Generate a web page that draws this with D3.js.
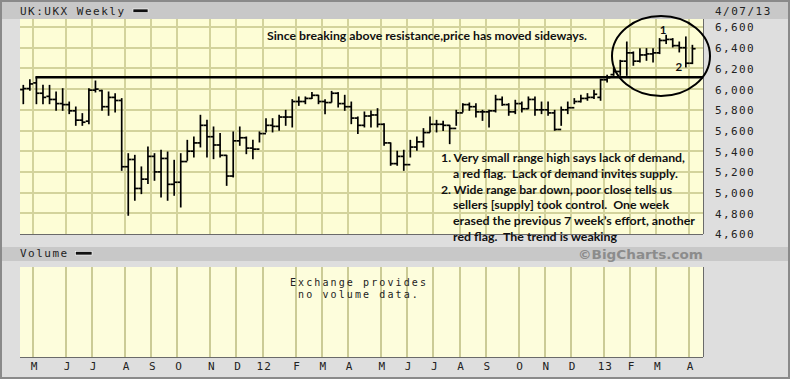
<!DOCTYPE html>
<html><head><meta charset="utf-8">
<script src="https://cdn.jsdelivr.net/npm/d3@7"></script>
<style>html,body{margin:0;padding:0;background:#dedede;}svg{display:block;}</style>
</head><body>
<script>
// ---------- DATA ----------
const firstWeek = "2011-04-18"; // weekly bars, one per week
const highs = [6036,6091,6110,6036,6036,5972,6004,5875,5827,5763,6004,6078,5988,5972,5956,5908,5376,5360,5248,5441,5376,5409,5392,5312,5376,5505,5537,5747,5698,5634,5570,5360,5586,5634,5537,5505,5586,5714,5714,5747,5795,5898,5924,5924,5966,5940,5898,5978,5966,5940,5875,5731,5779,5788,5811,5666,5480,5400,5409,5505,5537,5618,5731,5698,5690,5650,5795,5859,5866,5859,5795,5795,5940,5924,5859,5892,5875,5924,5924,5875,5875,5795,5827,5875,5908,5940,5956,5988,6095,6133,6198,6278,6455,6359,6391,6391,6391,6488,6520,6488,6455,6504,6423];
const lows = [5859,5988,5859,5859,5859,5795,5795,5763,5650,5650,5666,5972,5795,5747,5779,5215,4781,4926,4990,5087,5119,4958,4926,4974,4861,5312,5344,5441,5344,5328,5344,5070,5151,5457,5376,5328,5489,5586,5586,5602,5650,5634,5843,5859,5908,5859,5763,5875,5827,5795,5666,5570,5634,5634,5634,5457,5264,5264,5215,5344,5409,5441,5586,5586,5600,5473,5650,5779,5795,5731,5698,5634,5779,5843,5747,5763,5779,5811,5747,5763,5747,5602,5650,5763,5859,5875,5892,5908,5892,6069,6133,6133,6133,6230,6262,6278,6262,6343,6440,6407,6359,6214,6246];
const opens = [5995,6005,6060,5960,5930,5900,5860,5850,5790,5700,5690,5990,5985,5830,5920,5890,5250,5320,5040,5130,5350,5200,5330,5080,5100,5300,5400,5480,5650,5540,5460,5360,5160,5500,5530,5430,5420,5570,5650,5640,5730,5730,5880,5880,5910,5940,5880,5870,5960,5860,5830,5720,5650,5740,5750,5660,5480,5280,5350,5270,5440,5490,5580,5660,5660,5650,5620,5770,5850,5830,5780,5780,5790,5900,5850,5780,5860,5810,5900,5800,5800,5770,5610,5800,5820,5880,5910,5920,5920,6090,6140,6170,6270,6350,6270,6330,6340,6350,6470,6480,6420,6400,6250];
const closes = [6005,6050,5960,5920,5900,5860,5850,5790,5700,5680,5990,6000,5830,5920,5890,5250,5320,5040,5130,5350,5200,5330,5080,5100,5300,5400,5480,5650,5540,5460,5360,5160,5500,5530,5430,5420,5570,5650,5640,5730,5730,5880,5880,5910,5940,5880,5870,5960,5860,5830,5720,5650,5740,5750,5660,5480,5280,5350,5270,5440,5490,5580,5660,5660,5650,5620,5770,5850,5830,5780,5780,5790,5900,5850,5780,5860,5810,5900,5800,5800,5770,5610,5800,5820,5880,5910,5920,5950,6090,6110,6170,6270,6350,6270,6330,6340,6350,6470,6480,6420,6400,6250,6390];
const priceTicks = [4600,4800,5000,5200,5400,5600,5800,6000,6200,6400,6600];
const monthLabels = ["M","J","J","A","S","O","N","D","12","F","M","A","M","J","J","A","S","O","N","D","13","F","M","A"];
const monthWeeks = ["2011-05-02","2011-06-06","2011-07-04","2011-08-08","2011-09-05","2011-10-03","2011-11-07","2011-12-05","2012-01-02","2012-02-06","2012-03-05","2012-04-02","2012-05-07","2012-06-04","2012-07-02","2012-07-30","2012-08-27","2012-10-01","2012-10-29","2012-11-26","2012-12-31","2013-01-28","2013-02-25","2013-04-01"];
const resistance = 6115;
const resistanceFrom = "2011-05-02";
const titleText = "UK:UKX Weekly";
const dateText = "4/07/13";
const headline = "Since breaking above resistance,price has moved sideways.";
const notes = [
  ["1. Very small range high says lack of demand,", 0, 244],
  ["a red flag.  Lack of demand invites supply.", 1, 225],
  ["2. Wide range bar down, poor close tells us", 0, 231],
  ["sellers [supply] took control.  One week", 1, 216],
  ["erased the previous 7 week\u2019s effort, another", 1, 242],
  ["red flag.  The trend is weaking", 1, 164]
];
const marks = [["1","2013-03-04",6575],["2","2013-03-25",6215]];

// ---------- SETUP ----------
const W = 790, H = 379;
const svg = d3.select("body").append("svg").attr("width", W).attr("height", H);
const parse = d3.timeParse("%Y-%m-%d");
const dates = highs.map((_, i) => d3.timeWeek.offset(parse(firstWeek), i));
const P = {left: 20, right: 703, top: 19, bottom: 234};
const V = {top: 267, bottom: 357};
const x = d3.scaleTime().domain([dates[0], dates[dates.length - 1]]).range([23.3, 692.4]);
const y = d3.scaleLinear().domain([4600, 6600]).range([234, 27]);
const half = (x(dates[1]) - x(dates[0])) / 2;
const mono = "'DejaVu Sans Mono', monospace";
const monthDates = monthWeeks.map(parse);

// page background & frame
svg.append("rect").attr("width", W).attr("height", H).attr("fill", "#dedede");
svg.append("rect").attr("x", 1).attr("y", 1).attr("width", W - 2).attr("height", H - 2)
  .attr("fill", "none").attr("stroke", "#8a8a8a").attr("stroke-width", 2);
// header bands
svg.append("rect").attr("x", 2).attr("y", 2).attr("width", W - 4).attr("height", 17).attr("fill", "#c8c8c8");
svg.append("rect").attr("x", 2).attr("y", 247).attr("width", W - 4).attr("height", 14).attr("fill", "#c8c8c8");

// plot backgrounds
svg.append("rect").attr("x", P.left).attr("y", P.top).attr("width", P.right - P.left).attr("height", P.bottom - P.top).attr("fill", "#fdfdd6");
svg.append("rect").attr("x", P.left).attr("y", V.top).attr("width", P.right - P.left).attr("height", V.bottom - V.top).attr("fill", "#fdfddc");

// grid - main
const gm = svg.append("g").attr("stroke", "#d3d39c").attr("stroke-width", 1.5).attr("shape-rendering", "crispEdges");
gm.selectAll("line.h").data(priceTicks.slice(1)).join("line")
  .attr("x1", P.left).attr("x2", P.right).attr("y1", d => Math.round(y(d))).attr("y2", d => Math.round(y(d)));
gm.selectAll("line.v").data(monthDates).join("line")
  .attr("x1", d => Math.round(x(d) - half)).attr("x2", d => Math.round(x(d) - half)).attr("y1", P.top).attr("y2", P.bottom);
// grid - volume
svg.append("g").attr("stroke", "#cbcb96").attr("stroke-width", 1.5).attr("shape-rendering", "crispEdges")
  .selectAll("line").data(monthDates).join("line")
  .attr("x1", d => Math.round(x(d) - half)).attr("x2", d => Math.round(x(d) - half)).attr("y1", V.top).attr("y2", V.bottom);

// borders
const bd = svg.append("g").attr("stroke", "#6a6a6a").attr("stroke-width", 1).attr("shape-rendering", "crispEdges");
bd.append("line").attr("x1", P.left).attr("x2", P.right).attr("y1", P.bottom + 0.5).attr("y2", P.bottom + 0.5);
bd.append("line").attr("x1", P.right + 0.5).attr("x2", P.right + 0.5).attr("y1", P.top).attr("y2", P.bottom);
bd.append("line").attr("x1", P.left).attr("x2", P.right).attr("y1", V.bottom + 0.5).attr("y2", V.bottom + 0.5);
bd.append("line").attr("x1", P.right + 0.5).attr("x2", P.right + 0.5).attr("y1", V.top).attr("y2", V.bottom);

// resistance line
svg.append("line").attr("x1", x(parse(resistanceFrom)) - 1).attr("x2", P.right)
  .attr("y1", y(resistance)).attr("y2", y(resistance)).attr("stroke", "#000").attr("stroke-width", 2.5);

// OHLC bars
const bars = svg.append("g").attr("stroke", "#000").attr("stroke-width", 1.7);
dates.forEach((d, i) => {
  const cx = x(d);
  bars.append("line").attr("x1", cx).attr("x2", cx).attr("y1", y(highs[i]) - 0.5).attr("y2", y(lows[i]) + 0.5);
  bars.append("line").attr("x1", cx - 3.2).attr("x2", cx).attr("y1", y(opens[i])).attr("y2", y(opens[i]));
  bars.append("line").attr("x1", cx).attr("x2", cx + 3.2).attr("y1", y(closes[i])).attr("y2", y(closes[i]));
});

// Y axis
const yAx = svg.append("g").attr("transform", `translate(${P.right},0)`)
  .call(d3.axisRight(y).tickValues(priceTicks).tickFormat(d3.format(",")).tickSize(0).tickPadding(12));
yAx.select(".domain").remove();
yAx.selectAll("text").attr("font-family", mono).attr("font-size", 11).attr("fill", "#222")
  .attr("letter-spacing", 1.4).attr("dy", "0.36em");

// X axis (month labels)
const xAx = svg.append("g").attr("transform", `translate(${1 - half},${V.bottom})`)
  .call(d3.axisBottom(x).tickValues(monthDates).tickFormat((d, i) => monthLabels[i]).tickSize(0).tickPadding(5));
xAx.select(".domain").remove();
xAx.selectAll("text").attr("font-family", mono).attr("font-size", 11).attr("fill", "#222").attr("letter-spacing", 1);

// header texts
const txt = (s, tx, ty, o = {}) => svg.append("text").attr("x", tx).attr("y", ty).text(s)
  .attr("font-family", o.f || mono).attr("font-size", o.s || 11).attr("fill", o.c || "#222")
  .attr("letter-spacing", o.ls !== undefined ? o.ls : 1.5).attr("text-anchor", o.a || "start")
  .attr("font-weight", o.w || "normal");
txt(titleText, 20, 15);
svg.append("rect").attr("x", 133).attr("y", 9).attr("width", 15).attr("height", 3.5).attr("fill", "#111").attr("stroke", "#fff").attr("stroke-width", 0.6);
txt(dateText, 715, 15);
txt("Volume", 20, 257);
svg.append("rect").attr("x", 75.5).attr("y", 251.5).attr("width", 16.5).attr("height", 3.5).attr("fill", "#111").attr("stroke", "#fff").attr("stroke-width", 0.6);
svg.append("text").attr("x", 578).attr("y", 258.5).text("\u00A9BigCharts.com")
  .attr("font-family", "'DejaVu Sans', sans-serif").attr("font-weight", "bold").attr("font-size", 12.5)
  .attr("fill", "#8c8c8c").attr("textLength", 125).attr("lengthAdjust", "spacingAndGlyphs");
txt("Exchange provides", 359, 286, {a: "middle", ls: 2.1, s: 10});
txt("no volume data.", 359, 298, {a: "middle", ls: 2.1, s: 10});

// annotations
const ann = "'Lato', 'Open Sans', sans-serif";
svg.append("text").attr("x", 267).attr("y", 40).text(headline)
  .attr("font-family", ann).attr("font-weight", "bold").attr("font-size", 11.5).attr("fill", "#111")
  .attr("textLength", 320).attr("lengthAdjust", "spacingAndGlyphs");
notes.forEach(([s, indent, len], i) => {
  svg.append("text").attr("x", indent ? 453 : 441).attr("y", 162 + i * 15.8).text(s)
    .attr("font-family", ann).attr("font-weight", "bold").attr("font-size", 12).attr("fill", "#111")
    .attr("textLength", len).attr("lengthAdjust", "spacingAndGlyphs").attr("xml:space", "preserve")
    .style("white-space", "pre");
});

// circle highlight
svg.append("ellipse").attr("cx", 661).attr("cy", 56).attr("rx", 49).attr("ry", 40)
  .attr("fill", "none").attr("stroke", "#000").attr("stroke-width", 2);
marks.forEach(([s, d, v]) => {
  svg.append("text").attr("x", x(parse(d)) - (s === "1" ? 3 : 7)).attr("y", y(v) + 4).text(s)
    .attr("font-family", ann).attr("font-weight", "bold").attr("font-size", 11.5).attr("fill", "#111")
    .attr("text-anchor", "middle");
});
</script>
</body></html>
